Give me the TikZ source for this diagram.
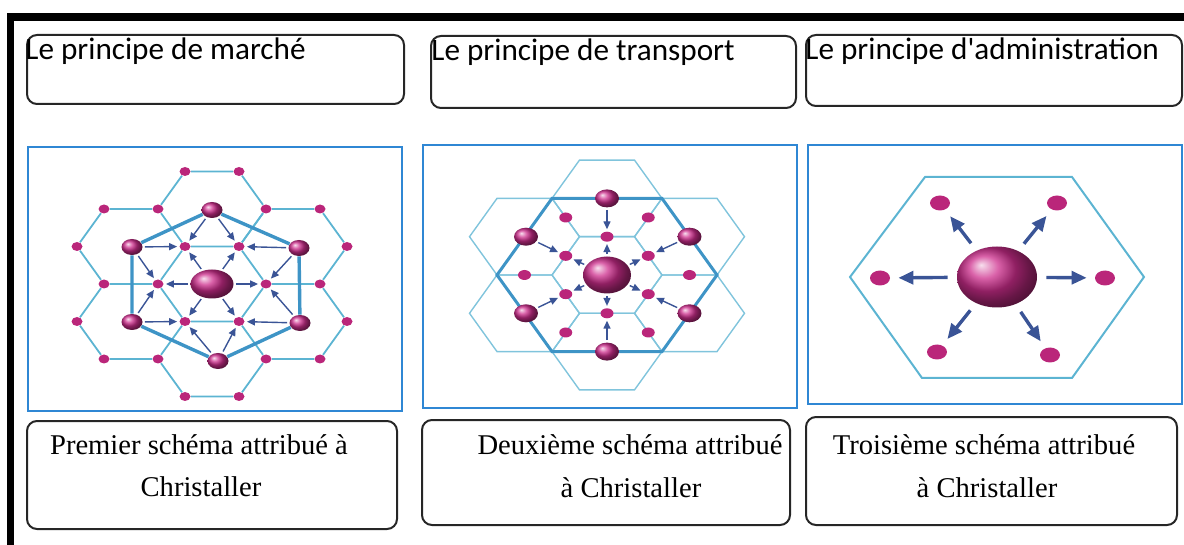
\documentclass[tikz,border=0pt]{standalone}
\usepackage{fontspec}
\setmainfont{Liberation Serif}
\newfontfamily\titlefont{Carlito}
\usetikzlibrary{shapes.geometric,arrows.meta}

\definecolor{dotmag}{RGB}{186,38,122}
\definecolor{ballmag}{RGB}{205,45,140}
\definecolor{latblue}{RGB}{92,180,210}
\definecolor{pale}{RGB}{128,196,220}
\definecolor{rimblue}{RGB}{62,148,198}
\definecolor{arrblue}{RGB}{58,84,150}
\definecolor{framblue}{RGB}{47,135,212}

\begin{document}
\begin{tikzpicture}[x=0.5pt,y=-0.5pt,
  mdot/.style={ellipse,inner sep=0pt,fill=dotmag,minimum width=5.5pt,minimum height=4.5pt},
  bigball/.style={ellipse,inner sep=0pt,shade,ball color=ballmag,minimum width=10.5pt,minimum height=8pt},
  lat/.style={latblue,line width=0.9pt},
  thinlat/.style={pale,line width=0.7pt},
  rim/.style={rimblue,line width=1.7pt},
  arr/.style={arrblue,line width=0.7pt,-{Triangle[length=4pt,width=3.5pt]},shorten <=1pt,shorten >=1pt},
  bigarr/.style={arrblue,line width=1.7pt,-{Triangle[length=7.5pt,width=6.5pt]},shorten <=4.5pt,shorten >=4pt},
  capbox/.style={draw=black!85,line width=1pt,rounded corners=5pt},
  picframe/.style={draw=framblue,line width=1pt},
  titletext/.style={anchor=base west,inner sep=0pt,font=\titlefont\fontsize{15.6}{18}\selectfont},
  captext/.style={anchor=base,inner sep=0pt,font=\fontsize{14.3}{17}\selectfont}]
\useasboundingbox (0,0) rectangle (1184,545);

\draw[line width=3.75pt] (10.5,545) -- (10.5,17) -- (1184,17);

% titles
\draw[capbox] (27,35) rectangle (404,104);
\draw[capbox] (431,36) rectangle (796,108);
\draw[capbox] (806,35) rectangle (1182,106);
\node[titletext] (t1) at (25,60) {Le principe de marché};
\node[titletext] (t2) at (431,61) {Le principe de transport};
\node[titletext] (t3) at (805,60) {Le principe d'administration};

\draw[picframe] (27.5,147.5) rectangle (401.5,410.5);
\draw[picframe] (422.5,145.5) rectangle (796.5,408);
\draw[picframe] (807.5,145.5) rectangle (1181.5,403.5);

% marche
\node[mdot] (v1) at (185,171.5) {};
\node[mdot] (v2) at (239,171.5) {};
\node[mdot] (v3) at (104,209) {};
\node[mdot] (v4) at (158,209) {};
\node[mdot] (v5) at (266,209) {};
\node[mdot] (v6) at (320,209) {};
\node[mdot] (v7) at (77,246.5) {};
\node[mdot] (v8) at (185,246.5) {};
\node[mdot] (v9) at (239,246.5) {};
\node[mdot] (v10) at (347,246.5) {};
\node[mdot] (v11) at (104,284) {};
\node[mdot] (v12) at (158,284) {};
\node[mdot] (v13) at (266,284) {};
\node[mdot] (v14) at (320,284) {};
\node[mdot] (v15) at (77,321.5) {};
\node[mdot] (v16) at (185,321.5) {};
\node[mdot] (v17) at (239,321.5) {};
\node[mdot] (v18) at (347,321.5) {};
\node[mdot] (v19) at (104,359) {};
\node[mdot] (v20) at (158,359) {};
\node[mdot] (v21) at (266,359) {};
\node[mdot] (v22) at (320,359) {};
\node[mdot] (v23) at (185,396.5) {};
\node[mdot] (v24) at (239,396.5) {};
\node[bigball,minimum width=21.5pt,minimum height=14.5pt] (m0) at (212,284) {};
\node[bigball] (m1) at (212,210) {};
\node[bigball] (m2) at (132,247) {};
\node[bigball] (m3) at (299,248) {};
\node[bigball] (m4) at (132,322) {};
\node[bigball] (m5) at (300,323) {};
\node[bigball] (m6) at (218,361) {};

\draw[lat] (v12) -- (v8) -- (v9) -- (v13) -- (v17) -- (v16) -- (v12);
\draw[lat] (v4) -- (v1) -- (v2) -- (v5) -- (v9);
\draw[lat] (v8) -- (v4);
\draw[lat] (v12) -- (v11) -- (v7) -- (v3) -- (v4);
\draw[lat] (v9) -- (v5) -- (v6) -- (v10) -- (v14) -- (v13);
\draw[lat] (v11) -- (v15) -- (v19) -- (v20) -- (v16);
\draw[lat] (v14) -- (v18) -- (v22) -- (v21) -- (v17);
\draw[lat] (v13) -- (v14);
\draw[lat] (v20) -- (v23) -- (v24) -- (v21);

\draw[rim] (m1) -- (m3) -- (m5) -- (m6) -- (m4) -- (m2) -- (m1);

\draw[arr] (m0) -- (v8);
\draw[arr] (m0) -- (v9);
\draw[arr] (m0) -- (v12);
\draw[arr] (m0) -- (v13);
\draw[arr] (m0) -- (v16);
\draw[arr] (m0) -- (v17);
\draw[arr] (m1) -- (v8);
\draw[arr] (m1) -- (v9);
\draw[arr] (m2) -- (v8);
\draw[arr] (m2) -- (v12);
\draw[arr] (m3) -- (v9);
\draw[arr] (m3) -- (v13);
\draw[arr] (m4) -- (v12);
\draw[arr] (m4) -- (v16);
\draw[arr] (m5) -- (v13);
\draw[arr] (m5) -- (v17);
\draw[arr] (m6) -- (v16);
\draw[arr] (m6) -- (v17);

% transport
\foreach \cx/\cy in {607/275,607/198.4,607/351.6,524.5/236.7,689.5/236.7,524.5/313.3,689.5/313.3}
  \draw[thinlat,shift={(\cx,\cy)}] (-55,0) -- (-27.5,-38.3) -- (27.5,-38.3) -- (55,0) -- (27.5,38.3) -- (-27.5,38.3) -- cycle;
\draw[rim,line width=1.5pt] (497,275) -- (552,198.4) -- (662,198.4) -- (717,275) -- (662,351.6) -- (552,351.6) -- cycle;

\node[mdot,minimum width=6.5pt,minimum height=5pt] (w1) at (607,236.7) {};
\node[mdot,minimum width=6.5pt,minimum height=5pt] (w2) at (565.75,255.85) {};
\node[mdot,minimum width=6.5pt,minimum height=5pt] (w3) at (648.25,255.85) {};
\node[mdot,minimum width=6.5pt,minimum height=5pt] (w4) at (565.75,294.15) {};
\node[mdot,minimum width=6.5pt,minimum height=5pt] (w5) at (648.25,294.15) {};
\node[mdot,minimum width=6.5pt,minimum height=5pt] (w6) at (607,313.3) {};
\node[mdot,minimum width=6.5pt,minimum height=5pt] (w7) at (565.75,217.5) {};
\node[mdot,minimum width=6.5pt,minimum height=5pt] (w8) at (648.25,217.5) {};
\node[mdot,minimum width=6.5pt,minimum height=5pt] (w9) at (524.5,275) {};
\node[mdot,minimum width=6.5pt,minimum height=5pt] (w10) at (689.5,275) {};
\node[mdot,minimum width=6.5pt,minimum height=5pt] (w11) at (565.75,332.5) {};
\node[mdot,minimum width=6.5pt,minimum height=5pt] (w12) at (648.25,332.5) {};
\node[bigball,minimum width=24pt,minimum height=18.5pt] (n0) at (607,275) {};
\node[bigball,minimum width=12pt,minimum height=9pt] (n1) at (607,198.4) {};
\node[bigball,minimum width=12pt,minimum height=9pt] (n2) at (526,236.7) {};
\node[bigball,minimum width=12pt,minimum height=9pt] (n3) at (689.5,236.7) {};
\node[bigball,minimum width=12pt,minimum height=9pt] (n4) at (526,313.3) {};
\node[bigball,minimum width=12pt,minimum height=9pt] (n5) at (689.5,313.3) {};
\node[bigball,minimum width=12pt,minimum height=9pt] (n6) at (607,351.6) {};

\draw[arr] (n0) -- (w1);
\draw[arr] (n0) -- (w2);
\draw[arr] (n0) -- (w3);
\draw[arr] (n0) -- (w4);
\draw[arr] (n0) -- (w5);
\draw[arr] (n0) -- (w6);
\draw[arr] (n1) -- (w1);
\draw[arr] (n2) -- (w2);
\draw[arr] (n3) -- (w3);
\draw[arr] (n4) -- (w4);
\draw[arr] (n5) -- (w5);
\draw[arr] (n6) -- (w6);

% administration
\draw[latblue,line width=1pt] (850,277) -- (925,177) -- (1072,177) -- (1144,277) -- (1072,378) -- (922,378) -- cycle;
\node[bigball,minimum width=40pt,minimum height=30.5pt] (p0) at (997,277) {};
\node[mdot,minimum width=10pt,minimum height=7.5pt] (p1) at (940,203) {};
\node[mdot,minimum width=10pt,minimum height=7.5pt] (p2) at (1057,203) {};
\node[mdot,minimum width=10pt,minimum height=7.5pt] (p3) at (880,278) {};
\node[mdot,minimum width=10pt,minimum height=7.5pt] (p4) at (1105,278) {};
\node[mdot,minimum width=10pt,minimum height=7.5pt] (p5) at (937,352) {};
\node[mdot,minimum width=10pt,minimum height=7.5pt] (p6) at (1050,355) {};
\draw[bigarr] (p0) -- (p1);
\draw[bigarr] (p0) -- (p2);
\draw[bigarr] (p0) -- (p3);
\draw[bigarr] (p0) -- (p4);
\draw[bigarr] (p0) -- (p5);
\draw[bigarr] (p0) -- (p6);

% legends
\draw[capbox] (27,421) rectangle (397,529);
\draw[capbox] (422,420) rectangle (790,525);
\draw[capbox] (806,417) rectangle (1177,525);
\node[captext] (c1) at (199,454) {Premier schéma attribué à};
\node[captext] (c2) at (201,496) {Christaller};
\node[captext] (c3) at (630,454) {Deuxième schéma attribué};
\node[captext] (c4) at (631,497) {à Christaller};
\node[captext] (c5) at (984,454) {Troisième schéma attribué};
\node[captext] (c6) at (987,497) {à Christaller};
\end{tikzpicture}
\end{document}
